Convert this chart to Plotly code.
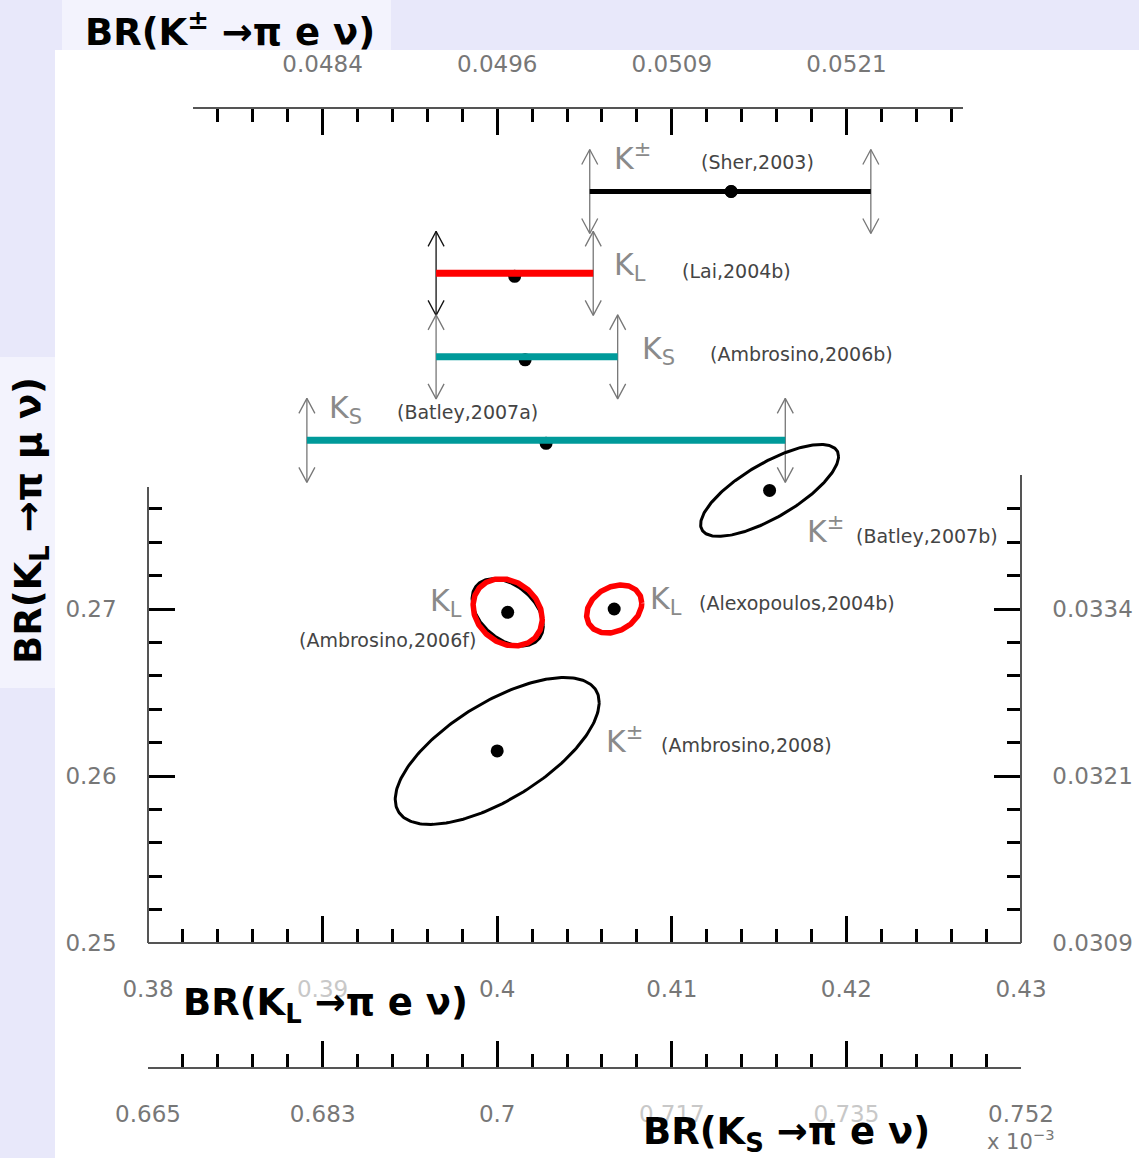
import numpy as np
import plotly.graph_objects as go

W, H = 1139, 1158

# ---------------- data (x in BR(K_L->pi e nu) units, y in BR(K_L->pi mu nu) units) ----------------
x_tickvals = [0.38, 0.39, 0.40, 0.41, 0.42, 0.43]
x_ticktext = ["0.38", "0.39", "0.4", "0.41", "0.42", "0.43"]
kpm_tickvals = [0.39, 0.40, 0.41, 0.42]
kpm_ticktext = ["0.0484", "0.0496", "0.0509", "0.0521"]
ks_tickvals = [0.38, 0.39, 0.40, 0.41, 0.42, 0.43]
ks_ticktext = ["0.665", "0.683", "0.7", "0.717", "0.735", "0.752"]
y_tickvals = [0.25, 0.26, 0.27]
y_ticktext = ["0.25", "0.26", "0.27"]
ymu_ticktext = ["0.0309", "0.0321", "0.0334"]

bar_kaon = ["K<sup>±</sup>", "K<sub>L</sub>", "K<sub>S</sub>", "K<sub>S</sub>"]
bar_refs = ["(Sher,2003)", "(Lai,2004b)", "(Ambrosino,2006b)", "(Batley,2007a)"]
bar_center = [0.4134, 0.4010, 0.4016, 0.4028]
bar_low = [0.4053, 0.3965, 0.3965, 0.3891]
bar_high = [0.4214, 0.4055, 0.4069, 0.4165]
bar_row = [0.2950, 0.2901, 0.2851, 0.2801]

ell_kaon = ["K<sup>±</sup>", "K<sup>±</sup>", "K<sub>L</sub>", "K<sub>L</sub>"]
ell_refs = ["(Batley,2007b)", "(Ambrosino,2008)", "(Ambrosino,2006f)", "(Alexopoulos,2004b)"]
ell_cx = [0.4156, 0.4000, 0.4006, 0.4067]
ell_cy = [0.2771, 0.2615, 0.2698, 0.2700]
ell_sx = [0.00395, 0.00584, 0.00198, 0.00158]
ell_sy = [0.00275, 0.00440, 0.00201, 0.00144]
ell_rho = [0.74, 0.66, -0.20, 0.25]

# ---------------- pixel geometry / styles ----------------
XP0, XP1 = 148, 1021          # pixel of x = 0.38 and 0.43
YP0, YP1 = 943, 609           # pixel of y = 0.25 and 0.27
XPU = (XP1 - XP0) / 0.05      # px per x-unit
YPU = (YP0 - YP1) / 0.02      # px per y-unit


def xv(px):
    return 0.38 + (px - XP0) / XPU


def yv(py):
    return 0.25 + (YP0 - py) / YPU


def pxf(px):
    return px / W


def pyf(py):
    return 1 - py / H


bar_colors = ["black", "#ff0000", "#009a9a", "#009a9a"]
bar_widths = [5, 7, 7, 7]
arrow_low_colors = ["#777777", "#111111", "#777777", "#777777"]
ell_colors = ["black", "black", "#ff0000", "#ff0000"]
ell_widths = [3, 3, 5.5, 5.5]

TICKFONT = dict(family="DejaVu Sans", size=23, color="#777777")
LIGHT = "#c8c8c8"

fig = go.Figure()

# dummy traces so every decorative axis pair is drawn
for xa, ya in [("x", "y"), ("x2", "y"), ("x", "y2"), ("x4", "y")]:
    fig.add_trace(go.Scatter(x=[0.40], y=[0.26], xaxis=xa, yaxis=ya, mode="markers",
                             marker=dict(opacity=0, size=1), hoverinfo="skip", showlegend=False))

# ---------------- error bars with double arrows ----------------
ah = 42 / YPU      # arrow half length
hx = 8 / XPU       # head half width
hy = 15 / YPU      # head height
for i in range(len(bar_row)):
    for xe, col in [(bar_low[i], arrow_low_colors[i]), (bar_high[i], "#777777")]:
        r = bar_row[i]
        xs = [xe, xe, None, xe - hx, xe, xe + hx, None, xe - hx, xe, xe + hx]
        ys = [r - ah, r + ah, None, r + ah - hy, r + ah, r + ah - hy, None,
              r - ah + hy, r - ah, r - ah + hy]
        fig.add_trace(go.Scatter(x=xs, y=ys, xaxis="x3", yaxis="y3", mode="lines",
                                 line=dict(color=col, width=1.3), hoverinfo="skip",
                                 showlegend=False))

dot_off = [0, 3 / YPU, 3 / YPU, 3 / YPU]
for i in range(len(bar_row)):
    fig.add_trace(go.Scatter(x=[bar_center[i]], y=[bar_row[i] - dot_off[i]], xaxis="x3", yaxis="y3",
                             mode="markers", marker=dict(color="black", size=13),
                             hoverinfo="skip", showlegend=False))
for i in range(len(bar_row)):
    fig.add_trace(go.Scatter(x=[bar_low[i], bar_high[i]], y=[bar_row[i], bar_row[i]],
                             xaxis="x3", yaxis="y3", mode="lines",
                             line=dict(color=bar_colors[i], width=bar_widths[i]),
                             hoverinfo="skip", showlegend=False))
fig.add_trace(go.Scatter(x=[bar_center[0]], y=[bar_row[0]], xaxis="x3", yaxis="y3",
                         mode="markers", marker=dict(color="black", size=13),
                         hoverinfo="skip", showlegend=False))

# ---------------- ellipses ----------------
t = np.linspace(0, 2 * np.pi, 241)


def ellipse(cx, cy, sx, sy, rho):
    ex = cx + sx * np.cos(t)
    ey = cy + sy * (rho * np.cos(t) + np.sqrt(1 - rho ** 2) * np.sin(t))
    return ex, ey


# black outline under the first red ellipse
ex, ey = ellipse(ell_cx[2], ell_cy[2], ell_sx[2] * 1.03, ell_sy[2], ell_rho[2] - 0.2)
fig.add_trace(go.Scatter(x=ex, y=ey, xaxis="x3", yaxis="y3", mode="lines",
                         line=dict(color="black", width=3), hoverinfo="skip", showlegend=False))
for i in range(len(ell_cx)):
    ex, ey = ellipse(ell_cx[i], ell_cy[i], ell_sx[i], ell_sy[i], ell_rho[i])
    fig.add_trace(go.Scatter(x=ex, y=ey, xaxis="x3", yaxis="y3", mode="lines",
                             line=dict(color=ell_colors[i], width=ell_widths[i]),
                             hoverinfo="skip", showlegend=False))
fig.add_trace(go.Scatter(x=ell_cx, y=ell_cy, xaxis="x3", yaxis="y3", mode="markers",
                         marker=dict(color="black", size=13), hoverinfo="skip", showlegend=False))

# ---------------- labels ----------------
KFONT = dict(family="DejaVu Sans", size=30, color="#8a8a8a")
RFONT = dict(family="DejaVu Sans", size=19, color="#444444")
kaon_pos = [(612, 157), (612, 266), (640, 350), (327, 409), (805, 529), (604, 739), (428, 602), (648, 600)]
ref_pos = [(699, 162), (680, 271), (708, 354), (395, 412), (854, 536), (659, 745), (297, 640), (697, 603)]
all_kaon = bar_kaon + ell_kaon
all_refs = bar_refs + ell_refs
ann = []
for i in range(len(all_kaon)):
    ann.append(dict(text=all_kaon[i], x=pxf(kaon_pos[i][0]), y=pyf(kaon_pos[i][1]),
                    xref="paper", yref="paper", xanchor="left", yanchor="middle",
                    showarrow=False, font=KFONT))
    ann.append(dict(text=all_refs[i], x=pxf(ref_pos[i][0]), y=pyf(ref_pos[i][1]),
                    xref="paper", yref="paper", xanchor="left", yanchor="middle",
                    showarrow=False, font=RFONT))

BIG = dict(family="DejaVu Sans", size=37, color="black", weight="bold")
ann += [
    dict(text="BR(K<sup>±</sup> →π e ν)", x=pxf(230), y=pyf(30), xref="paper", yref="paper",
         xanchor="center", yanchor="middle", showarrow=False, font=BIG),
    dict(text="BR(K<sub>L</sub> →π μ ν)", x=pxf(31), y=pyf(521), xref="paper", yref="paper",
         xanchor="center", yanchor="middle", showarrow=False, font=BIG, textangle=-90),
    dict(text="BR(K<sub>L</sub> →π e ν)", x=pxf(325), y=pyf(1005), xref="paper", yref="paper",
         xanchor="center", yanchor="middle", showarrow=False, font=BIG),
    dict(text="BR(K<sub>S</sub> →π e ν)", x=pxf(786), y=pyf(1134), xref="paper", yref="paper",
         xanchor="center", yanchor="middle", showarrow=False, font=BIG),
    dict(text="x 10<sup>−3</sup>", x=pxf(985), y=pyf(1140), xref="paper", yref="paper",
         xanchor="left", yanchor="middle", showarrow=False,
         font=dict(family="DejaVu Sans", size=21, color="#777777")),
]

# ---------------- axes ----------------
def ax(minor_tick0, **kw):
    d = dict(showgrid=False, zeroline=False, showline=True, linecolor="#555555", linewidth=1.5,
             ticks="inside", ticklen=26, tickwidth=3, tickcolor="black", tickfont=TICKFONT,
             tickmode="array", fixedrange=True, anchor="free", ticklabelstandoff=26,
             automargin=False,
             minor=dict(ticks="inside", ticklen=13, tickwidth=3, tickcolor="black",
                        tickmode="linear", tick0=minor_tick0, dtick=0.002))
    d.update(kw)
    return d


def light(txts, idx):
    return [f'<span style="color:{LIGHT}">{s}</span>' if i in idx else s for i, s in enumerate(txts)]


fig.update_layout(
    width=W, height=H, autosize=False, margin=dict(l=0, r=0, t=0, b=0, pad=0, autoexpand=False),
    paper_bgcolor="#e8e8fa", plot_bgcolor="rgba(0,0,0,0)", showlegend=False,
    xaxis=ax(0.38, domain=[pxf(XP0), pxf(XP1)], range=[0.38, 0.43], position=pyf(943), side="bottom",
             tickvals=x_tickvals, ticktext=light(x_ticktext, [1])),
    yaxis=ax(0.25, domain=[pyf(943), pyf(487)], range=[0.25, yv(487)], position=pxf(XP0), side="left",
             tickvals=y_tickvals, ticktext=y_ticktext),
    yaxis2=ax(0.25, domain=[pyf(943), pyf(475)], range=[0.25, yv(475)], position=pxf(XP1), side="right",
              tickvals=y_tickvals, ticktext=ymu_ticktext),
    xaxis2=ax(0.38, domain=[pxf(193), pxf(963)], range=[xv(193), xv(963)], position=pyf(108), side="top",
              tickvals=kpm_tickvals, ticktext=kpm_ticktext),
    xaxis4=ax(0.38, domain=[pxf(XP0), pxf(XP1)], range=[0.38, 0.43], position=pyf(1068), side="bottom",
              tickvals=ks_tickvals, ticktext=light(ks_ticktext, [3, 4])),
    xaxis3=dict(domain=[0, 1], range=[xv(0), xv(W)], visible=False, anchor="y3", fixedrange=True,
                automargin=False),
    yaxis3=dict(domain=[0, 1], range=[yv(H), yv(0)], visible=False, anchor="x3", fixedrange=True,
                automargin=False),
    annotations=ann,
    shapes=[
        dict(type="rect", xref="paper", yref="paper", x0=pxf(55), x1=1, y0=0, y1=pyf(50),
             fillcolor="white", line=dict(width=0), layer="below"),
        dict(type="rect", xref="paper", yref="paper", x0=pxf(62), x1=pxf(391), y0=pyf(50), y1=1,
             fillcolor="#f3f3fd", line=dict(width=0), layer="below"),
        dict(type="rect", xref="paper", yref="paper", x0=0, x1=pxf(55), y0=pyf(688), y1=pyf(357),
             fillcolor="#f3f3fd", line=dict(width=0), layer="below"),
    ],
)

fig.write_html("out.html")
